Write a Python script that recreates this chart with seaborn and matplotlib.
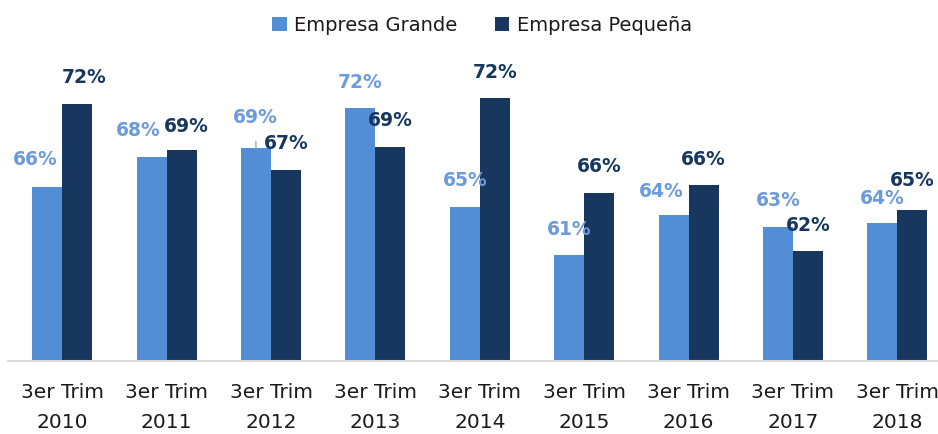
import pandas as pd
import matplotlib
matplotlib.use("Agg")
import matplotlib.pyplot as plt
import seaborn as sns

# --- DATA ---
years = ["2010", "2011", "2012", "2013", "2014", "2015", "2016", "2017", "2018"]
grande = [66.2, 68.3, 68.9, 71.7, 64.8, 61.4, 64.2, 63.4, 63.7]
pequena = [72.0, 68.8, 67.4, 69.0, 72.4, 65.8, 66.3, 61.7, 64.6]
series_names = ["Empresa Grande", "Empresa Pequeña"]

# --- STYLE ---
BAR_COLORS = ["#538DD5", "#17375E"]
LABEL_COLORS = ["#6C9BDB", "#17375E"]
BAR_WIDTH = 0.575
Y_MIN, Y_MAX = 54, 76

# label nudges in pixels (dx, dy above bar top)
nudges = {
    (0, 0): (-12, 27), (1, 0): (7, 27),
    (0, 1): (-13, 26), (1, 1): (5, 23),
    (0, 2): (-1, 31),
    (0, 6): (-12, 24),
    (0, 8): (0, 24), (1, 8): (0, 29),
}


def build_frame():
    cats = [f"3er Trim\n{y}" for y in years]
    rows = []
    for name, vals in zip(series_names, [grande, pequena]):
        for c, v in zip(cats, vals):
            rows.append({"periodo": c, "serie": name, "valor": v})
    return pd.DataFrame(rows), cats


def draw():
    sns.set_theme(style="white")
    plt.rcParams["font.family"] = ["DejaVu Sans"]
    df, cats = build_frame()

    fig = plt.figure(figsize=(9.38, 4.34), dpi=100)
    ax = fig.add_axes([8 / 938, 73 / 434, 930 / 938, 314 / 434])

    sns.barplot(data=df, x="periodo", y="valor", hue="serie", order=cats,
                hue_order=series_names, palette=BAR_COLORS, width=BAR_WIDTH,
                saturation=1, edgecolor="none", linewidth=0, ax=ax,
                legend=True)

    ax.set_ylim(Y_MIN, Y_MAX)
    ax.set_xlim(-0.52, 8.39)
    ax.set_xlabel("")
    ax.set_ylabel("")
    ax.set_yticks([])
    sns.despine(ax=ax, left=True)
    ax.spines["bottom"].set_color("#D9D9D9")
    ax.spines["bottom"].set_linewidth(1.5)
    ax.tick_params(axis="x", length=0, pad=16, labelsize=14.5,
                   labelcolor="#1A1A1A")
    for t in ax.get_xticklabels():
        t.set_linespacing(1.75)

    # data labels
    for s, vals in enumerate([grande, pequena]):
        for i, v in enumerate(vals):
            x = i + (s - 0.5) * BAR_WIDTH / 2
            dx, dy = nudges.get((s, i), (0, 26))
            kw = {}
            if (s, i) == (0, 2):
                kw["arrowprops"] = dict(arrowstyle="-", color="#A6A6A6",
                                        lw=1, shrinkA=8, shrinkB=0)
            ax.annotate(f"{v:.0f}%", xy=(x, v), xytext=(dx, dy),
                        textcoords="offset pixels", ha="center", va="center",
                        fontsize=13.5, fontweight="bold",
                        color=LABEL_COLORS[s], **kw)

    handles, labels = ax.get_legend_handles_labels()
    ax.legend_.remove()
    fig.legend(handles, labels, loc="center", bbox_to_anchor=(0.514, 0.942),
               ncol=2, frameon=False, fontsize=14, handlelength=0.75,
               handleheight=0.75, handletextpad=0.4, columnspacing=1.9,
               labelcolor="#1A1A1A")

    fig.savefig("out.png", dpi=100)


if __name__ == "__main__":
    draw()
